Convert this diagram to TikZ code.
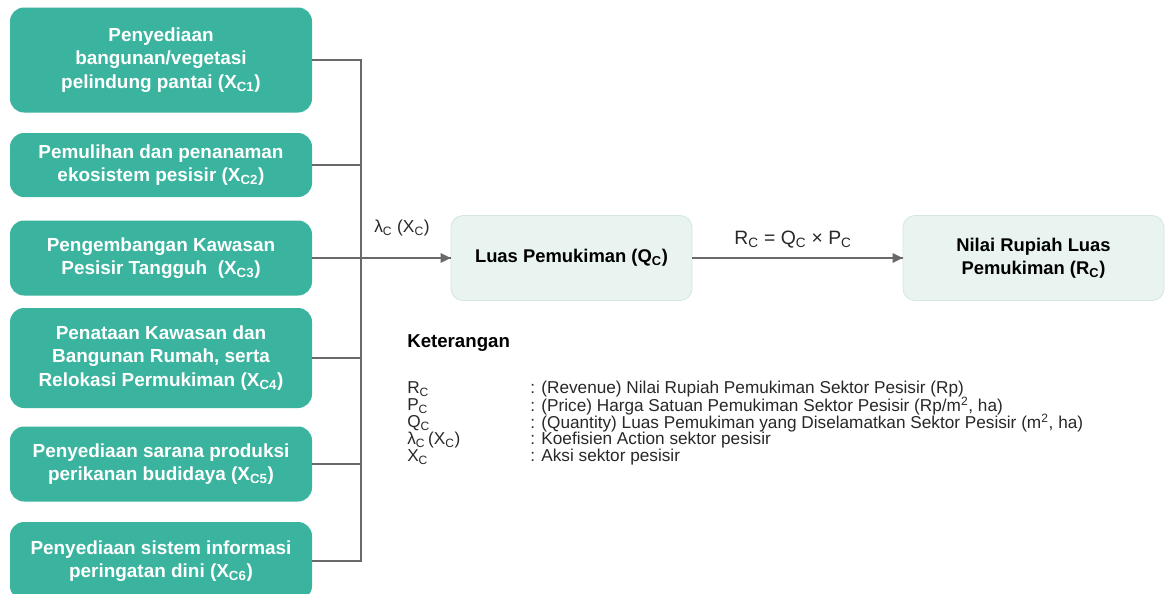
\documentclass[tikz,border=0pt]{standalone}
\usepackage{fontspec}
\setmainfont{Liberation Sans}
\usepackage{tikz}

\definecolor{tealbox}{RGB}{58,180,159}
\definecolor{palebox}{RGB}{233,244,241}
\definecolor{paleline}{RGB}{212,230,225}
\definecolor{wire}{RGB}{105,105,105}
\definecolor{inktext}{RGB}{40,40,40}

\tikzset{
  actbox/.style={draw=none, fill=tealbox, rounded corners=10.5pt, minimum width=226.5pt,
    text=white, align=center, inner sep=0pt, font=\fontsize{14.2}{17.6}\selectfont\bfseries},
  outbox/.style={draw=paleline, line width=0.6pt, fill=palebox, rounded corners=9pt, minimum height=63.75pt,
    text=black, align=center, inner sep=0pt, font=\fontsize{13.8}{17.2}\selectfont\bfseries},
  lbl/.style={inner sep=0pt, text=inktext, font=\fontsize{12.9}{14}\selectfont},
  wireline/.style={draw=wire, line width=0.9pt}
}

\begin{document}
\begin{tikzpicture}[x=0.75pt,y=0.75pt,yscale=-1,xscale=1]
\clip (0,0) rectangle (1166,593);
\fill[white] (0,0) rectangle (1166,593);

%Action boxes (left column)
\node[actbox, minimum height=78.75pt] (xc1) at (161,60) {Penyediaan\\ bangunan/vegetasi\\ pelindung pantai (X\textsubscript{C1})};
\node[actbox, minimum height=48pt] (xc2) at (161,165) {Pemulihan dan penanaman\\ ekosistem pesisir (X\textsubscript{C2})};
\node[actbox, minimum height=56.25pt] (xc3) at (161,258) {Pengembangan Kawasan\\ Pesisir Tangguh~~(X\textsubscript{C3})};
\node[actbox, minimum height=75pt] (xc4) at (161,358) {Penataan Kawasan dan\\ Bangunan Rumah, serta\\ Relokasi Permukiman (X\textsubscript{C4})};
\node[actbox, minimum height=56.25pt] (xc5) at (161,464) {Penyediaan sarana produksi\\ perikanan budidaya (X\textsubscript{C5})};
\node[actbox, minimum height=58.5pt] (xc6) at (161,561) {Penyediaan sistem informasi\\ peringatan dini (X\textsubscript{C6})};

%Result boxes
\node[outbox, minimum width=180.75pt] (qbox) at (571.5,258) {Luas Pemukiman (Q\textsubscript{C})};
\node[outbox, minimum width=195.75pt] (rbox) at (1033.5,258) {Nilai Rupiah Luas\\ Pemukiman (R\textsubscript{C})};

%Collector line
\coordinate (spine) at (361,258);
\draw[wireline] (xc1.east) -- (xc1.east -| spine) -- (xc6.east -| spine) -- (xc6.east);
\draw[wireline] (xc2.east) -- (xc2.east -| spine);
\draw[wireline] (xc4.east) -- (xc4.east -| spine);
\draw[wireline] (xc5.east) -- (xc5.east -| spine);

%Arrow into Q
\draw[wireline] (xc3.east) -- (qbox.west);
\draw [shift={(qbox.west)}, rotate = 180] [fill=wire][draw opacity=0] (10,-5) -- (0,0) -- (10,5) -- cycle ;
\node[lbl, font=\fontsize{13}{14}\selectfont] (lamlbl) at (402,228) {λ\textsubscript{C} (X\textsubscript{C})};

%Arrow into R
\draw[wireline] (qbox.east) -- (rbox.west);
\draw [shift={(rbox.west)}, rotate = 180] [fill=wire][draw opacity=0] (10,-5) -- (0,0) -- (10,5) -- cycle ;
\node[lbl, font=\fontsize{14.5}{16}\selectfont] (eqlbl) at (793,240) {R\textsubscript{C} = Q\textsubscript{C} × P\textsubscript{C}};

%Legend
\node[lbl, anchor=west, text=black, font=\fontsize{14}{16}\selectfont\bfseries] (ket) at (407,343) {Keterangan};
\node[lbl, anchor=west] (symr) at (407,389) {R\textsubscript{C}};
\node[lbl, anchor=west] (descr) at (530,389) {: (Revenue) Nilai Rupiah Pemukiman Sektor Pesisir (Rp)};
\node[lbl, anchor=west] (symp) at (407,406) {P\textsubscript{C}};
\node[lbl, anchor=west] (descp) at (530,406) {: (Price) Harga Satuan Pemukiman Sektor Pesisir (Rp/m\textsuperscript{2}, ha)};
\node[lbl, anchor=west] (symq) at (407,423) {Q\textsubscript{C}};
\node[lbl, anchor=west] (descq) at (530,423) {: (Quantity) Luas Pemukiman yang Diselamatkan Sektor Pesisir (m\textsuperscript{2}, ha)};
\node[lbl, anchor=west] (syml) at (407,440) {λ\textsubscript{C}\,(X\textsubscript{C})};
\node[lbl, anchor=west] (descl) at (530,440) {: Koefisien Action sektor pesisir};
\node[lbl, anchor=west] (symx) at (407,457) {X\textsubscript{C}};
\node[lbl, anchor=west] (descx) at (530,457) {: Aksi sektor pesisir};

\end{tikzpicture}
\end{document}
